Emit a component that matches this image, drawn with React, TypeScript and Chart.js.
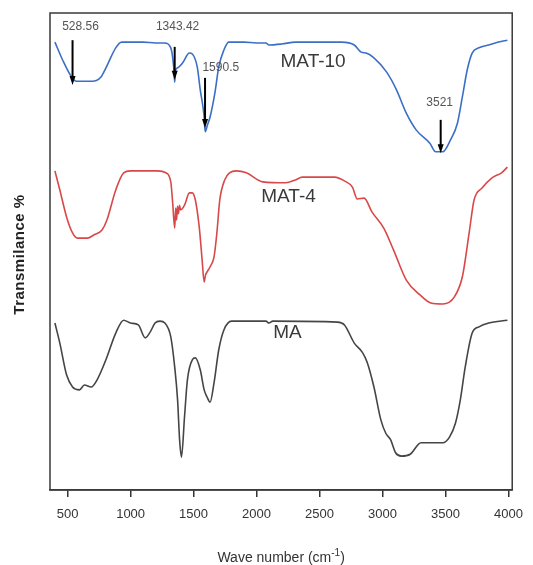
import React, { useEffect, useRef } from "react";
import { Chart, registerables } from "chart.js";

Chart.register(...registerables);

// ---- Data (wavenumber in cm-1, transmittance in arbitrary %) ----
const mat10Wave = [399, 461, 531, 570, 640, 695, 765, 804, 882, 929, 1000, 1100, 1200, 1270, 1319, 1342, 1350, 1358, 1373, 1412, 1467, 1490, 1529, 1553, 1584, 1592, 1610, 1631, 1669, 1700, 1740, 1779, 1900, 2000, 2075, 2098, 2200, 2309, 2675, 2776, 2831, 2870, 2932, 3033, 3111, 3189, 3267, 3376, 3423, 3478, 3540, 3595, 3634, 3673, 3712, 3766, 3844, 3922, 3992];
const mat10T = [93.9, 90.1, 86.6, 85.7, 85.7, 85.7, 86.6, 88.5, 92.7, 93.9, 93.9, 93.9, 93.7, 93.7, 92.7, 88.7, 85.5, 88.1, 88.5, 89.5, 91.6, 91.4, 88.7, 83.9, 78.2, 75.1, 76.5, 78.2, 83.2, 88.7, 92.2, 93.9, 93.9, 93.7, 93.7, 93.3, 93.5, 93.9, 93.9, 93.3, 91.8, 91.6, 90.6, 87.6, 83.9, 79.0, 75.5, 72.7, 70.9, 70.9, 73.4, 76.9, 82.4, 88.1, 91.6, 92.7, 93.3, 93.9, 94.3];

const mat4Wave = [399, 438, 492, 539, 578, 656, 711, 773, 812, 882, 945, 999, 1061, 1217, 1280, 1319, 1334, 1350, 1358, 1365, 1372, 1380, 1388, 1397, 1428, 1467, 1490, 1514, 1545, 1568, 1584, 1595, 1607, 1631, 1662, 1685, 1708, 1747, 1786, 1841, 1919, 2051, 2231, 2309, 2363, 2620, 2698, 2761, 2800, 2854, 2916, 3010, 3088, 3189, 3298, 3384, 3478, 3571, 3634, 3688, 3727, 3790, 3867, 3945, 3992];
const mat4T = [66.9, 62.9, 57.2, 53.9, 52.8, 52.8, 53.5, 54.5, 56.6, 62.9, 66.5, 66.9, 66.9, 66.9, 66.5, 64.6, 60.2, 54.9, 59.1, 56.6, 59.5, 57.9, 59.7, 58.7, 59.7, 62.3, 62.3, 60.8, 55.1, 48.2, 43.6, 45.1, 45.7, 46.8, 48.8, 53.9, 60.8, 65.0, 66.5, 66.9, 66.5, 64.6, 64.4, 65.0, 65.6, 65.6, 64.8, 63.5, 61.0, 61.2, 58.3, 54.9, 50.3, 44.0, 40.9, 39.2, 39.0, 40.5, 44.7, 53.9, 60.8, 63.3, 65.4, 66.5, 67.7];

const maWave = [399, 438, 492, 539, 594, 633, 687, 734, 804, 882, 945, 999, 1061, 1116, 1155, 1194, 1233, 1272, 1319, 1350, 1373, 1389, 1404, 1428, 1451, 1490, 1514, 1553, 1584, 1607, 1631, 1662, 1700, 1740, 1802, 2075, 2098, 2129, 2644, 2698, 2776, 2839, 2878, 2932, 2987, 3026, 3065, 3104, 3150, 3220, 3306, 3376, 3478, 3532, 3579, 3618, 3657, 3712, 3766, 3844, 3992];
const maT = [35.0, 30.8, 24.1, 21.6, 21.0, 22.0, 21.6, 23.1, 27.3, 32.9, 35.6, 35.0, 34.6, 31.9, 33.1, 35.0, 35.4, 35.0, 32.1, 25.8, 18.9, 10.5, 6.9, 15.3, 23.1, 27.3, 27.7, 25.2, 21.0, 19.5, 18.4, 22.4, 29.4, 33.5, 35.4, 35.4, 35.0, 35.4, 35.2, 34.6, 30.8, 28.9, 26.8, 21.6, 14.7, 11.9, 10.5, 7.8, 7.1, 7.5, 9.9, 9.9, 9.9, 11.1, 14.0, 18.9, 25.8, 32.9, 34.2, 35.0, 35.6];

const xTicks = [500, 1000, 1500, 2000, 2500, 3000, 3500, 4000];

// series labels
const seriesNames = ["MAT-10", "MAT-4", "MA"];
const seriesLabelX = [2449, 2254, 2246];
const seriesLabelY = [89.7, 61.4, 32.9];

// peak annotations
const peakLabels = ["528.56", "1343.42", "1590.5", "3521"];
const peakArrowX = [539, 1350, 1591, 3462];
const peakArrowTop = [94.3, 92.9, 86.4, 77.6];
const peakArrowBottom = [84.9, 86.0, 75.9, 70.6];
const peakLabelX = [602, 1373, 1716, 3454];
const peakLabelY = [97.1, 97.1, 88.5, 81.1];

const FONT = "'Liberation Sans', Arial, sans-serif";

const toPoints = (xs: number[], ys: number[]) => xs.map((x, i) => ({ x, y: ys[i] }));

const decorPlugin = {
  id: "decor",
  afterDatasetsDraw(chart: any) {
    const { ctx, chartArea, scales } = chart;
    const xs = scales.x;
    const ys = scales.y;
    ctx.save();
    // frame
    ctx.strokeStyle = "#3a3a3a";
    ctx.lineWidth = 1.5;
    ctx.strokeRect(chartArea.left, chartArea.top, chartArea.right - chartArea.left, chartArea.bottom - chartArea.top);

    // series labels
    ctx.fillStyle = "#3a3a3a";
    ctx.font = `19px ${FONT}`;
    ctx.textAlign = "center";
    ctx.textBaseline = "middle";
    seriesNames.forEach((n, i) => {
      ctx.fillText(n, xs.getPixelForValue(seriesLabelX[i]), ys.getPixelForValue(seriesLabelY[i]));
    });

    // peak arrows
    peakLabels.forEach((lab, i) => {
      const px = xs.getPixelForValue(peakArrowX[i]);
      const top = ys.getPixelForValue(peakArrowTop[i]);
      const bot = ys.getPixelForValue(peakArrowBottom[i]);
      ctx.strokeStyle = "#000";
      ctx.lineWidth = 2;
      ctx.beginPath();
      ctx.moveTo(px, top);
      ctx.lineTo(px, bot - 6);
      ctx.stroke();
      ctx.fillStyle = "#000";
      ctx.beginPath();
      ctx.moveTo(px - 3, bot - 9);
      ctx.lineTo(px + 3, bot - 9);
      ctx.lineTo(px, bot);
      ctx.closePath();
      ctx.fill();
      ctx.fillStyle = "#555";
      ctx.font = `12px ${FONT}`;
      ctx.fillText(lab, xs.getPixelForValue(peakLabelX[i]), ys.getPixelForValue(peakLabelY[i]));
    });

    // y title
    ctx.save();
    ctx.translate(20, (chartArea.top + chartArea.bottom) / 2 + 3);
    ctx.rotate(-Math.PI / 2);
    ctx.fillStyle = "#222";
    ctx.font = `bold 15px ${FONT}`;
    try { (ctx as any).letterSpacing = "0.5px"; } catch (e) {}
    ctx.fillText("Transmilance %", 0, 0);
    ctx.restore();

    // x title with superscript
    const cx = (chartArea.left + chartArea.right) / 2;
    const ty = 557;
    ctx.fillStyle = "#333";
    ctx.textAlign = "left";
    ctx.textBaseline = "alphabetic";
    const a = "Wave number (cm";
    const b = ")";
    ctx.font = `10px ${FONT}`;
    const supW = ctx.measureText("-1").width;
    ctx.font = `14px ${FONT}`;
    const aw = ctx.measureText(a).width;
    const bw = ctx.measureText(b).width;
    const x0 = cx - (aw + supW + bw) / 2;
    ctx.fillText(a, x0, ty + 5);
    ctx.font = `10px ${FONT}`;
    ctx.fillText("-1", x0 + aw, ty - 1);
    ctx.font = `14px ${FONT}`;
    ctx.fillText(b, x0 + aw + supW, ty + 5);
    ctx.restore();
  },
};

export default function App() {
  const ref = useRef<HTMLCanvasElement>(null);
  useEffect(() => {
    document.body.style.margin = "0";
    const lineStyle = { borderWidth: 1.6, pointRadius: 0, cubicInterpolationMode: "monotone" };
    const chart = new Chart(ref.current as HTMLCanvasElement, {
      type: "line",
      data: {
        datasets: [
          { label: "MAT-10", data: toPoints(mat10Wave, mat10T), borderColor: "#3b6fc6", ...lineStyle },
          { label: "MAT-4", data: toPoints(mat4Wave, mat4T), borderColor: "#d94848", ...lineStyle },
          { label: "MA", data: toPoints(maWave, maT), borderColor: "#454545", ...lineStyle },
        ],
      },
      options: {
        animation: false,
        responsive: false,
        maintainAspectRatio: false,
        layout: { padding: { left: 50, top: 13, right: 12, bottom: 0 } },
        plugins: { legend: { display: false }, tooltip: { enabled: false } },
        scales: {
          x: {
            type: "linear",
            min: 360,
            max: 4030,
            afterBuildTicks: (scale: any) => {
              scale.ticks = xTicks.map((v) => ({ value: v }));
            },
            afterFit: (scale: any) => {
              scale.height = 75;
            },
            grid: { display: true, drawOnChartArea: false, drawTicks: true, tickLength: 7, color: "#333", lineWidth: 1.5 },
            border: { display: true, color: "#3a3a3a", width: 1.5 },
            ticks: {
              color: "#333",
              font: { family: FONT, size: 13 },
              padding: 10,
              maxRotation: 0,
              autoSkip: false,
              callback: (v: any) => String(v),
            },
          },
          y: {
            type: "linear",
            min: 0,
            max: 100,
            display: false,
          },
        },
      },
      plugins: [decorPlugin],
    } as any);
    return () => chart.destroy();
  }, []);
  return <canvas ref={ref} width={533} height={565} style={{ display: "block" }} />;
}
